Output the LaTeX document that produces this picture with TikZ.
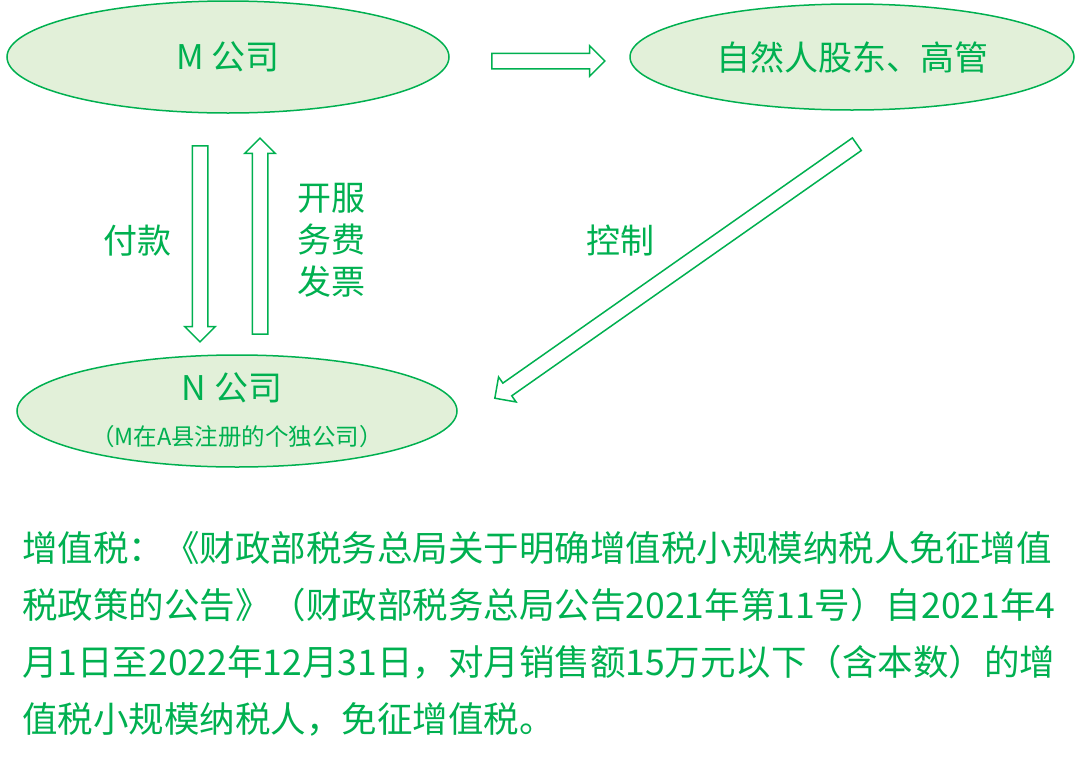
\documentclass[tikz,border=0pt]{standalone}
\usepackage{fontspec}
\setmainfont{Noto Sans CJK SC}
\usetikzlibrary{shapes.geometric,shapes.arrows,calc}
\definecolor{lgreen}{HTML}{00B050}
\definecolor{lfill}{HTML}{E2F0D9}
% stretch between ideographs, so that a line can be spread to full width
\XeTeXinterchartokenstate=1
\newcommand{\cjkglue}{\hskip 0pt plus 1pt}
\XeTeXinterchartoks 1 1 = {\cjkglue}
\XeTeXinterchartoks 1 2 = {\cjkglue}
\XeTeXinterchartoks 1 3 = {\cjkglue}
\XeTeXinterchartoks 2 1 = {\cjkglue}
\XeTeXinterchartoks 3 1 = {\cjkglue}
\XeTeXinterchartoks 3 2 = {\cjkglue}
\XeTeXinterchartoks 1 0 = {\cjkglue}
\XeTeXinterchartoks 0 1 = {\cjkglue}
\XeTeXinterchartoks 3 0 = {\cjkglue}
\XeTeXinterchartoks 0 3 = {\cjkglue}
\XeTeXinterchartoks 0 2 = {\cjkglue}
\newcommand{\harrow}[2]{%
	\path let \p1=(#1), \p2=(#2), \n1={veclen(\x2-\x1,\y2-\y1)}, \n2={atan2(\y2-\y1,\x2-\x1)} in
		node[hollow, minimum height=\n1, rotate=\n2] at ($(#1)!.5!(#2)$) {};}

\begin{document}
\begin{tikzpicture}[x=1pt,y=-1pt,
		every node/.style={text=lgreen},
		ell/.style={ellipse,draw=lgreen,fill=lfill,line width=1.5pt},
		big/.style={font=\fontsize{34}{42}\selectfont},
		small/.style={font=\fontsize{23.5}{28}\selectfont},
		para/.style={font=\fontsize{35.5}{57}\selectfont,inner sep=0pt,anchor=base west},
		hollow/.style={single arrow,draw=lgreen,fill=white,line width=1.5pt,inner sep=7pt,
			single arrow head extend=7.5pt,single arrow tip angle=90}]
		\useasboundingbox (0,0) rectangle (1080,761);
		% parties
		\node[ell,big,minimum width=442pt,minimum height=112pt] (M) at (228,57) {M 公司};
		\node[ell,big,minimum width=444pt,minimum height=106pt] (P) at (852,57) {自然人股东、高管};
		\node[ell,minimum width=440pt,minimum height=112pt] (N) at (237,411) {};
		\node[big] (Nt) at (232,388) {N 公司};
		\node[small] (Ns) at (237,437) {（M在A县注册的个独公司）};
		% hollow arrows
		\coordinate (p1) at (488,61);
		\coordinate (p2) at (601,61);
		\coordinate (a1) at (200,142);
		\coordinate (a2) at (200,338);
		\coordinate (b1) at (260,338);
		\coordinate (b2) at (260,142);
		\coordinate (c1) at (860,142);
		\coordinate (c2) at (498,396);
		\foreach \s/\e in {p1/p2,a1/a2,b1/b2,c1/c2}{
			\harrow{\s}{\e}
		}
		\node[big] (pay) at (137,241) {付款};
		\node[big,align=left] (inv) at (331,240) {开服\\务费\\发票};
		\node[big] (ctl) at (620,241) {控制};
		% note
		\foreach \al/\t[count=\i] in {
			s/{增值税：《财政部税务总局关于明确增值税小规模纳税人免征增值},
			s/{税政策的公告》（财政部税务总局公告2021年第11号）自2021年4},
			s/{月1日至2022年12月31日，对月销售额15万元以下（含本数）的增},
			l/{值税小规模纳税人，免征增值税。}}{
			\node[para] (l\i) at (22,504+57*\i) {\makebox[1036pt][\al]{\t}};
		}
	\end{tikzpicture}
\end{document}
